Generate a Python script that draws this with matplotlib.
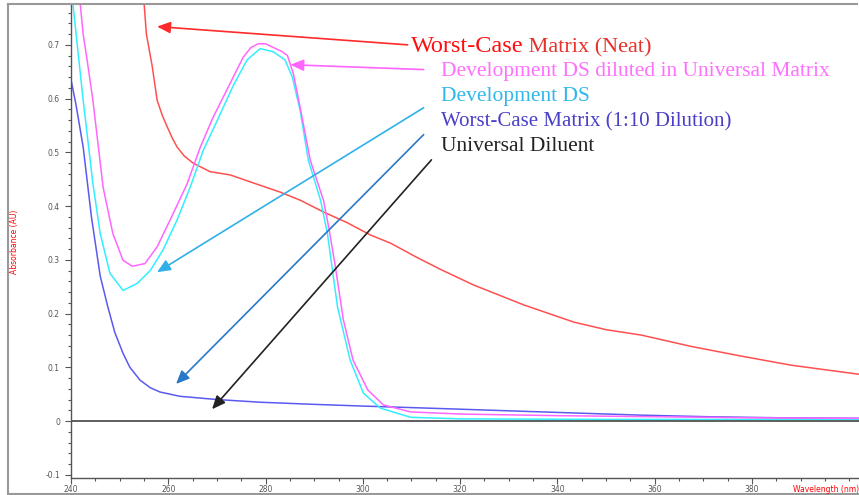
import numpy as np
import matplotlib
matplotlib.use("Agg")
import matplotlib.pyplot as plt
from matplotlib.lines import Line2D
from matplotlib.ticker import MultipleLocator, FixedLocator, FixedFormatter

# -----------------------------
# Spectra (wavelength nm, absorbance AU)
# -----------------------------
neat_wl = [254.0, 255.0, 255.5, 256.7, 257.7, 258.8, 259.8, 260.8, 261.8, 263.3,
           265.1, 268.6, 272.7, 277.5, 283.0, 287.1, 291.9, 296.8, 301.6, 305.7,
           311.0, 316.0, 322.8, 333.1, 343.4, 350.0, 357.2, 367.4, 377.7, 388.0,
           402.0]
neat_abs = [0.90, 0.78, 0.72, 0.66, 0.597, 0.568, 0.547, 0.527, 0.51, 0.493,
            0.48, 0.464, 0.458, 0.443, 0.426, 0.411, 0.389, 0.369, 0.346, 0.331,
            0.305, 0.282, 0.253, 0.216, 0.184, 0.170, 0.160, 0.139, 0.121, 0.104,
            0.087]

dsum_wl = [241.3, 241.9, 242.5, 243.5, 244.5, 246.6, 248.6, 250.7, 252.6, 255.2,
           257.7, 261.0, 263.9, 266.6, 269.2, 272.7, 275.4, 277.0, 278.5, 280.0,
           281.6, 283.3, 284.5, 285.7, 287.1, 289.2, 291.9, 293.0, 294.3, 296.0,
           298.0, 301.0, 304.2, 309.8, 320.0, 340.0, 360.0, 380.0, 402.0]
dsum_abs = [0.84, 0.776, 0.72, 0.66, 0.597, 0.435, 0.349, 0.299, 0.288, 0.293,
            0.324, 0.386, 0.442, 0.51, 0.565, 0.628, 0.677, 0.695, 0.702, 0.702,
            0.695, 0.688, 0.68, 0.647, 0.584, 0.485, 0.411, 0.36, 0.29, 0.188,
            0.113, 0.058, 0.030, 0.017, 0.013, 0.010, 0.008, 0.006, 0.005]

ds_wl = [240.0, 240.4, 241.4, 242.5, 243.3, 244.5, 246.0, 248.0, 250.7, 253.6,
         256.3, 258.9, 261.8, 264.5, 267.2, 270.1, 273.4, 276.2, 278.9, 281.6,
         284.0, 285.5, 287.1, 288.8, 291.3, 292.7, 294.8, 297.4, 300.1, 303.6,
         309.8, 320.0, 350.0, 402.0]
ds_abs = [0.85, 0.776, 0.69, 0.597, 0.535, 0.442, 0.349, 0.275, 0.243, 0.256,
          0.28, 0.318, 0.374, 0.435, 0.504, 0.56, 0.625, 0.672, 0.693, 0.687,
          0.672, 0.64, 0.578, 0.485, 0.411, 0.35, 0.212, 0.113, 0.052, 0.024,
          0.007, 0.004, 0.003, 0.003]

dil_wl = [240.0, 241.0, 242.5, 244.2, 246.0, 247.5, 249.0, 250.7, 252.1, 254.2,
          256.3, 258.3, 262.4, 270.0, 278.9, 290.0, 299.5, 310.0, 320.1, 330.0,
          343.4, 357.0, 371.0, 386.0, 402.0]
dil_abs = [0.635, 0.59, 0.51, 0.38, 0.27, 0.215, 0.165, 0.126, 0.10, 0.076,
           0.062, 0.054, 0.046, 0.040, 0.035, 0.031, 0.028, 0.025, 0.022, 0.019,
           0.015, 0.011, 0.008, 0.006, 0.005]

blank_wl = [240.0, 270.0, 300.0, 330.0, 360.0, 402.0]
blank_abs = [0.0, 0.0, 0.0, 0.0, 0.0, 0.0]

xtick_vals = [240, 260, 280, 300, 320, 340, 360, 380]
ytick_vals = [-0.1, 0.0, 0.1, 0.2, 0.3, 0.4, 0.5, 0.6, 0.7]
ytick_labels = ["-0.1", "0", "0.1", "0.2", "0.3", "0.4", "0.5", "0.6", "0.7"]

# -----------------------------
# Figure / axes layout
# -----------------------------
W, H = 859, 495
fig = plt.figure(figsize=(W / 100, H / 100), dpi=100)
ax = fig.add_axes([71 / W, 1 - 478 / H, 1 - 71 / W, (478 - 4) / H])

ax.plot(neat_wl, neat_abs, color="#ff5050", lw=1.1)
ax.plot(dil_wl, dil_abs, color="#5a5af0", lw=1.1)
ax.plot(ds_wl, ds_abs, color="#33eeff", lw=1.1)
ax.plot(dsum_wl, dsum_abs, color="#ff66ff", lw=1.1)
ax.plot(blank_wl, blank_abs, color="#333333", lw=1.1)

ax.set_xlim(240, 402)
ax.set_ylim(-0.106, 0.776)

ax.xaxis.set_major_locator(FixedLocator(xtick_vals))
ax.xaxis.set_minor_locator(MultipleLocator(5))
ax.yaxis.set_major_locator(FixedLocator(ytick_vals))
ax.yaxis.set_major_formatter(FixedFormatter(ytick_labels))
ax.yaxis.set_minor_locator(MultipleLocator(0.02))
ax.tick_params(which="both", direction="out", colors="#555555", labelsize=5.5,
               labelcolor="#555555")
ax.tick_params(which="major", length=4, width=0.8)
ax.tick_params(axis="y", pad=4)
ax.tick_params(axis="x", pad=1)
ax.tick_params(which="minor", length=2, width=0.8)

for side in ["top", "right"]:
    ax.spines[side].set_visible(False)
for side in ["left", "bottom"]:
    ax.spines[side].set_color("#555555")
    ax.spines[side].set_linewidth(1.0)

# outer gray frame
frame_kw = dict(transform=fig.transFigure, color="#999999", lw=1.5)
fig.add_artist(Line2D([8 / W, 857 / W], [1 - 4 / H, 1 - 4 / H], **frame_kw))
fig.add_artist(Line2D([8 / W, 8 / W], [1 - 4 / H, 1 - 494 / H], **frame_kw))
fig.add_artist(Line2D([8 / W, 1], [1 - 494 / H, 1 - 494 / H], **frame_kw))

fig.text(15 / W, 1 - 242 / H, "Absorbance (AU)", rotation=90, color="red",
         fontsize=5.5, ha="center", va="center")
fig.text(793 / W, 1 - 489 / H, "Wavelength (nm)", color="red",
         fontsize=5.5, ha="left", va="center")

# -----------------------------
# Callout labels with arrows
# -----------------------------
serif = "Liberation Serif"

def arrow(tail, tip, color):
    ax.annotate("", xy=tip, xytext=tail,
                arrowprops=dict(arrowstyle="-|>,head_length=0.8,head_width=0.35",
                                color=color, lw=1.2, shrinkA=0, shrinkB=0))

arrow((309.2, 0.700), (257.7, 0.734), "#ff2a2a")
arrow((312.5, 0.654), (285.1, 0.663), "#ff66ff")
arrow((312.5, 0.583), (257.7, 0.277), "#2fb0e8")
arrow((312.5, 0.533), (261.6, 0.069), "#2a78c8")
arrow((314.1, 0.486), (269.0, 0.022), "#222222")

t1 = ax.text(309.8, 0.696, "Worst-Case", color="#ff1010", fontsize=17.5,
             family=serif, va="center")
ax.annotate(" Matrix (Neat)", xy=(1, 0), xycoords=t1, va="bottom",
            color="#e8302a", fontsize=16, family=serif)
ax.text(316.0, 0.650, "Development DS diluted in Universal Matrix",
        color="#ff70ff", fontsize=15.5, family=serif, va="center")
ax.text(316.0, 0.603, "Development DS", color="#30b8ea", fontsize=15.5,
        family=serif, va="center")
ax.text(316.0, 0.557, "Worst-Case Matrix (1:10 Dilution)", color="#4a40c8",
        fontsize=15, family=serif, va="center")
ax.text(316.0, 0.510, "Universal Diluent", color="#222222", fontsize=15.5,
        family=serif, va="center")

fig.savefig("out.png", dpi=100)
